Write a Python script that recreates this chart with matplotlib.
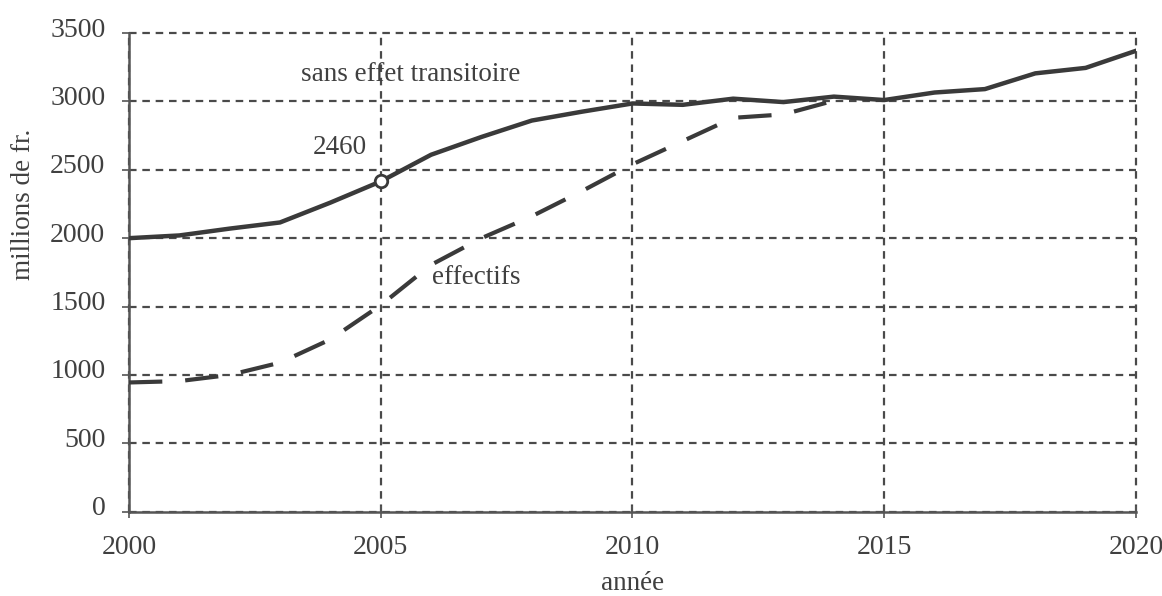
import matplotlib.pyplot as plt
from matplotlib.transforms import ScaledTranslation

# values (millions de fr.)
years = list(range(2000, 2021))
sans_effet = [2000, 2020, 2070, 2115, 2260, 2415, 2610, 2740, 2860, 2925, 2985,
              2975, 3020, 2995, 3035, 3010, 3065, 3090, 3205, 3245, 3370]
years_eff = list(range(2000, 2015))
effectifs = [945, 955, 1000, 1090, 1260, 1510, 1805, 2000, 2160, 2345, 2540,
             2710, 2880, 2905, 3005]

x_ticks = [2000, 2005, 2010, 2015, 2020]
y_ticks = [0, 500, 1000, 1500, 2000, 2500, 3000, 3500]

ink = "#3a3a3a"
txt = "#404040"
plt.rcParams["font.family"] = ["Liberation Serif", "DejaVu Serif"]

fig = plt.figure(figsize=(11.62, 5.96), dpi=100)
ax = fig.add_axes([0.111, 0.1414, 0.8666, 0.8032])

ax.plot(years, sans_effet, color=ink, lw=3.2, solid_joinstyle="round", zorder=4)
ax.plot(years_eff, effectifs, color=ink, lw=3.0, linestyle=(0, (8, 5.5)), zorder=4)
ax.plot([2005], [sans_effet[5]], marker="o", ms=9, mfc="white", mec=ink, mew=2, zorder=5)

ax.set_xlim(2000, 2020)
ax.set_ylim(0, 3500)
ax.set_xticks(x_ticks)
ax.set_yticks(y_ticks)

ax.grid(True, color="#4a4a4a", lw=1.6, linestyle=(0, (3.4, 2.6)))
for gl in ax.get_xgridlines() + ax.get_ygridlines():
    gl.set_clip_on(False)

for side in ["top", "right"]:
    ax.spines[side].set_visible(False)
for side in ["left", "bottom"]:
    ax.spines[side].set_color("#555555")
    ax.spines[side].set_linewidth(1.8)

ax.tick_params(axis="y", direction="out", length=5, width=1.2, color="#555555",
               labelsize=20, labelcolor=txt, pad=12)
ax.tick_params(axis="x", direction="inout", length=8, width=1.2, color="#555555",
               labelsize=20, labelcolor=txt, pad=13)
# y labels sit slightly above their gridline in the original
lift = ScaledTranslation(0, 6 / 100, fig.dpi_scale_trans)
for lab in ax.get_yticklabels():
    lab.set_transform(lab.get_transform() + lift)

ax.set_xlabel("année", fontsize=19.5, color=txt, labelpad=8)
ax.set_ylabel("millions de fr.", fontsize=19.5, color=txt)
ax.yaxis.set_label_coords(-0.092, 0.642)

ax.text(2005.6, 3197, "sans effet transitoire", fontsize=19.5, color=txt,
        ha="center", va="center")
ax.text(2004.19, 2663, "2460", fontsize=19.5, color=txt, ha="center", va="center")
ax.text(2006.9, 1711, "effectifs", fontsize=19.5, color=txt, ha="center", va="center")

fig.savefig("out.png", dpi=100, facecolor="white")
